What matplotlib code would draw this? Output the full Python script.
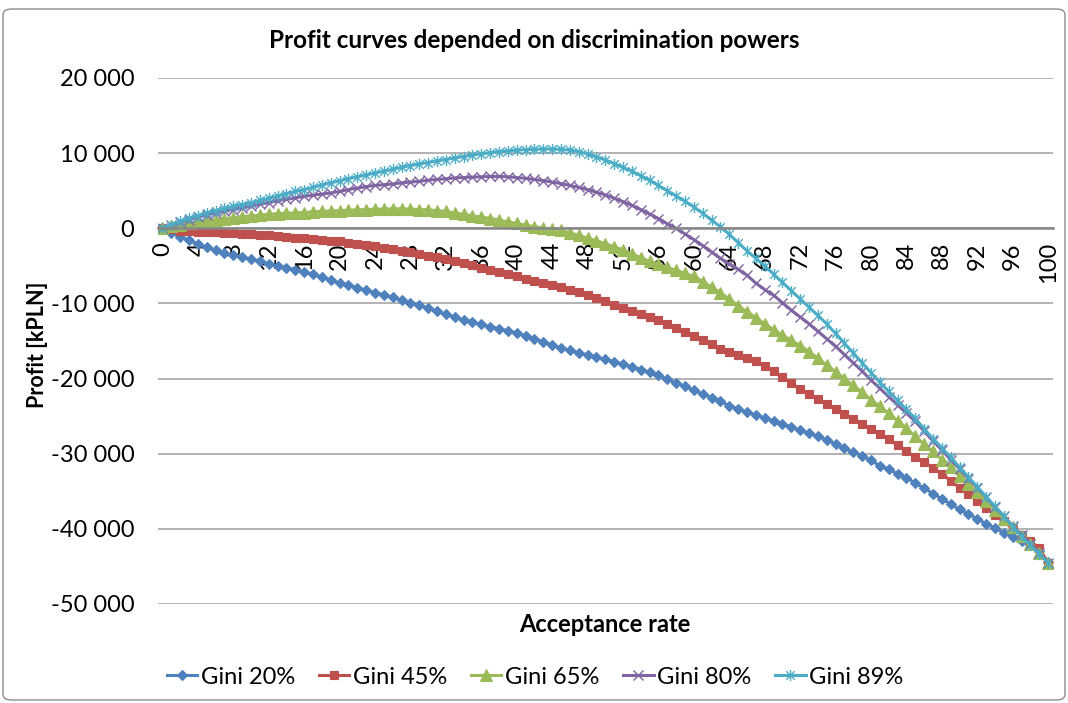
import matplotlib
matplotlib.use("Agg")
import matplotlib.pyplot as plt
from matplotlib.path import Path
from matplotlib.patches import FancyBboxPatch
from matplotlib.ticker import FuncFormatter

plt.rcParams['font.family'] = ['Lato', 'DejaVu Sans']

# acceptance rate categories 0..100
acceptance = list(range(101))

gini_20 = [0, -600, -1100, -1600, -2100, -2550, -2950, -3300, -3600, -3850,
           -4100, -4400, -4700, -5000, -5250, -5500, -5800, -6150, -6500, -6900,
           -7300, -7600, -7900, -8250, -8550, -8850, -9200, -9550, -9900, -10250,
           -10650, -11050, -11450, -11850, -12200, -12500, -12800, -13100, -13350, -13650,
           -13950, -14300, -14700, -15100, -15550, -15950, -16250, -16550, -16850, -17150,
           -17450, -17750, -18050, -18400, -18800, -19150, -19550, -20100, -20600, -21050,
           -21550, -22050, -22550, -23050, -23600, -24050, -24450, -24850, -25250, -25650,
           -26050, -26450, -26900, -27300, -27700, -28150, -28700, -29300, -29800, -30300,
           -30900, -31600, -32100, -32650, -33200, -33900, -34600, -35300, -36000, -36700,
           -37400, -38000, -38700, -39300, -39900, -40500, -41100, -41600, -42100, -43000,
           -44400]

gini_45 = [0, -150, -300, -400, -450, -500, -550, -600, -650, -750,
           -800, -850, -950, -1050, -1150, -1250, -1350, -1450, -1550, -1650,
           -1750, -1900, -2050, -2250, -2400, -2600, -2800, -3000, -3200, -3450,
           -3650, -3850, -4050, -4350, -4650, -4950, -5250, -5550, -5850, -6150,
           -6400, -6700, -7000, -7300, -7550, -7800, -8150, -8500, -8850, -9250,
           -9700, -10150, -10600, -11000, -11400, -11800, -12250, -12750, -13300, -13850,
           -14350, -14850, -15400, -16000, -16500, -16900, -17300, -17700, -18300, -19000,
           -19800, -20600, -21400, -22100, -22750, -23400, -24050, -24700, -25350, -26000,
           -26700, -27350, -28100, -28900, -29700, -30400, -31100, -31900, -32700, -33600,
           -34500, -35400, -36300, -37200, -38100, -39000, -40000, -40800, -41600, -42600,
           -44500]

gini_65 = [0, 250, 450, 650, 800, 950, 1100, 1250, 1400, 1550,
           1650, 1750, 1850, 1950, 2000, 2050, 2100, 2200, 2250, 2300,
           2350, 2400, 2450, 2500, 2550, 2550, 2600, 2600, 2550, 2500,
           2450, 2350, 2250, 2050, 1850, 1650, 1500, 1300, 1100, 850,
           650, 400, 200, 50, -100, -250, -600, -950, -1300, -1650,
           -2050, -2450, -2900, -3400, -3900, -4400, -4800, -5200, -5600, -6000,
           -6400, -7100, -7800, -8600, -9400, -10300, -11100, -11900, -12700, -13500,
           -14200, -14900, -15600, -16400, -17300, -18200, -19100, -20000, -20900, -21800,
           -22800, -23700, -24600, -25600, -26600, -27700, -28700, -29700, -30800, -31800,
           -32900, -34000, -35100, -36300, -37500, -38700, -39800, -40900, -42000, -43200,
           -44500]

gini_80 = [0, 400, 800, 1150, 1500, 1800, 2050, 2300, 2500, 2700,
           2950, 3200, 3400, 3650, 3850, 4050, 4250, 4400, 4550, 4700,
           4900, 5150, 5350, 5550, 5700, 5800, 5900, 6050, 6150, 6250,
           6400, 6500, 6600, 6700, 6750, 6800, 6850, 6900, 6900, 6850,
           6750, 6650, 6500, 6350, 6150, 5950, 5700, 5450, 5150, 4800,
           4450, 4000, 3550, 3050, 2500, 1900, 1300, 600, 0, -750,
           -1500, -2300, -3150, -4000, -4750, -5450, -6250, -7300, -8150, -8900,
           -9900, -10900, -11800, -12700, -13700, -14700, -15700, -16800, -17900, -19000,
           -20200, -21300, -22400, -23500, -24600, -25700, -27000, -28300, -29500, -30800,
           -32000, -33300, -34500, -35800, -37100, -38300, -39600, -40800, -42000, -43200,
           -44500]

gini_89 = [0, 450, 950, 1350, 1700, 2050, 2350, 2650, 2900, 3150,
           3400, 3700, 4000, 4300, 4600, 4900, 5150, 5450, 5750, 6050,
           6300, 6600, 6850, 7100, 7350, 7600, 7850, 8100, 8350, 8550,
           8750, 8950, 9150, 9350, 9550, 9750, 9900, 10050, 10200, 10300,
           10400, 10450, 10500, 10550, 10550, 10500, 10400, 10200, 9900, 9500,
           9100, 8600, 8100, 7600, 7000, 6400, 5700, 5000, 4300, 3600,
           2850, 2000, 1100, 200, -800, -1900, -3000, -4000, -5000, -6100,
           -7200, -8300, -9400, -10500, -11600, -12700, -14000, -15300, -16600, -17900,
           -19200, -20500, -21700, -22900, -24100, -25300, -26700, -28000, -29200, -30500,
           -31800, -33100, -34400, -35700, -37000, -38300, -39700, -41000, -42200, -43300,
           -44500]

series_names = ['Gini 20%', 'Gini 45%', 'Gini 65%', 'Gini 80%', 'Gini 89%']
y_ticks = [20000, 10000, 0, -10000, -20000, -30000, -40000, -50000]

# Excel-like asterisk marker (x plus vertical bar)
star = Path([(-1, -1), (1, 1), (-1, 1), (1, -1), (0, -1.3), (0, 1.3)],
            [Path.MOVETO, Path.LINETO, Path.MOVETO, Path.LINETO, Path.MOVETO, Path.LINETO])

styles = [
    dict(color='#4F81BD', marker='D', ms=4.6, mew=0.8),
    dict(color='#C0504D', marker='s', ms=6.2, mew=0.8),
    dict(color='#9BBB59', marker='^', ms=8.0, mew=0.8),
    dict(color='#8064A2', marker='x', ms=6.5, mew=1.0),
    dict(color='#4BACC6', marker=star, ms=8.0, mew=1.0),
]

fig = plt.figure(figsize=(10.68, 7.03), dpi=100)
ax = fig.add_axes([158 / 1068, 1 - 604 / 703, (1052.5 - 158) / 1068, (604 - 78) / 703])

for vals, name, st in zip([gini_20, gini_45, gini_65, gini_80, gini_89], series_names, styles):
    ax.plot(acceptance, vals, color=st['color'], lw=2.2, marker=st['marker'],
            markersize=st['ms'], markeredgewidth=st['mew'],
            markerfacecolor=st['color'], markeredgecolor=st['color'], label=name)

ax.set_xlim(-0.5, 100.5)
ax.set_ylim(-50000, 20000)
ax.set_yticks(y_ticks)
ax.yaxis.set_major_formatter(FuncFormatter(lambda v, p: f"{int(v):,}".replace(",", " ")))
ax.set_xticks(range(0, 101, 4))
ax.tick_params(axis='x', length=0, pad=10, labelsize=17, labelrotation=90)
ax.tick_params(axis='y', length=0, pad=17, labelsize=17)

ax.grid(axis='y', color='#A6A6A6', lw=1.2)
ax.set_axisbelow(True)
for s in ['top', 'right', 'left']:
    ax.spines[s].set_visible(False)
ax.spines['bottom'].set_position(('data', 0))
ax.spines['bottom'].set_color('#868686')
ax.spines['bottom'].set_linewidth(1.8)

fig.text(0.5, 1 - 40 / 703, 'Profit curves depended on discrimination powers',
         ha='center', va='center', fontsize=17.5, fontweight='bold')
fig.text(37 / 1068, 1 - 345 / 703, 'Profit [kPLN]', rotation=90,
         ha='center', va='center', fontsize=15.5, fontweight='bold')
fig.text(605 / 1068, 1 - 625 / 703, 'Acceptance rate',
         ha='center', va='center', fontsize=17, fontweight='bold')

fig.legend(loc='center', bbox_to_anchor=(535 / 1068, 1 - 677 / 703), ncol=5,
           frameon=False, fontsize=17, handlelength=1.3, handletextpad=0.15,
           columnspacing=1.0, borderaxespad=0)

border = FancyBboxPatch((3 / 1068, 3 / 703), 1 - 6 / 1068, 1 - 12 / 703,
                        boxstyle='round,pad=0,rounding_size=0.008',
                        transform=fig.transFigure, fill=False,
                        edgecolor='#8C8C8C', lw=1.0)
fig.patches.append(border)

fig.savefig('out.png', dpi=100)
